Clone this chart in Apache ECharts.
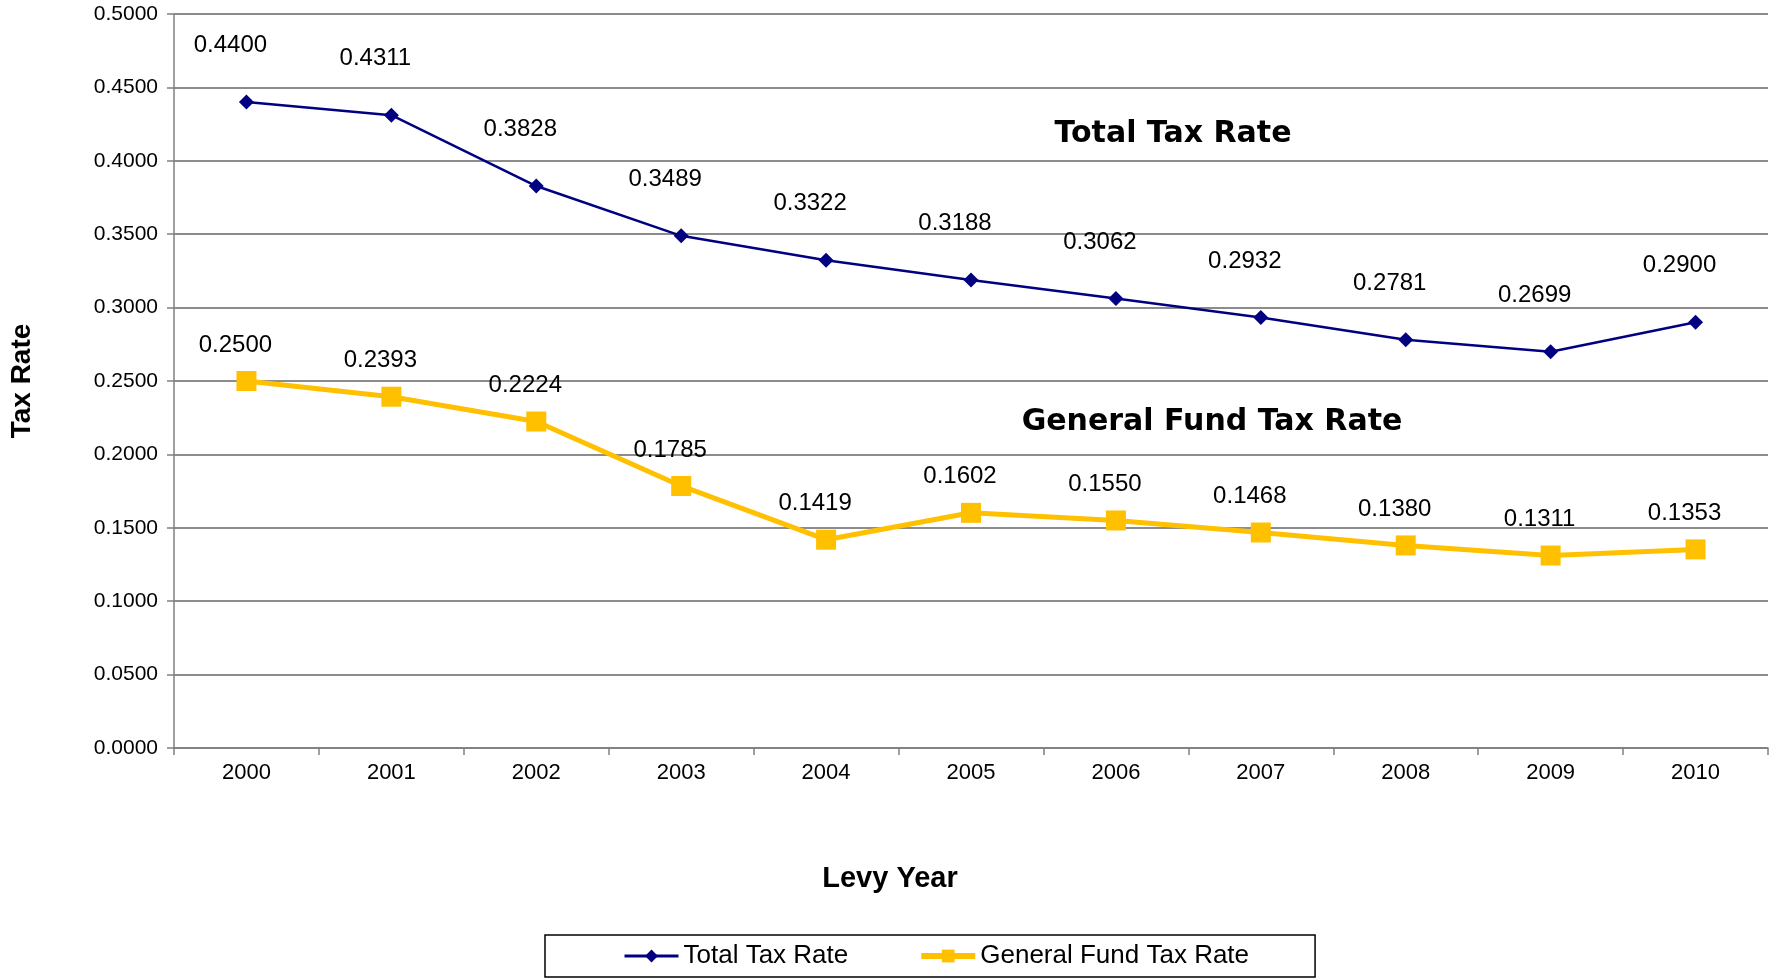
<!DOCTYPE html>
<html>
<head>
<meta charset="utf-8">
<script src="https://cdn.jsdelivr.net/npm/echarts@6/dist/echarts.min.js"></script>
<style>
  html, body { margin: 0; padding: 0; background: #fff; }
  #chart { width: 1778px; height: 980px; }
</style>
</head>
<body>
<div id="chart"></div>
<script>
const years = ['2000', '2001', '2002', '2003', '2004', '2005', '2006', '2007', '2008', '2009', '2010']
const totalTaxRate = [0.4400, 0.4311, 0.3828, 0.3489, 0.3322, 0.3188, 0.3062, 0.2932, 0.2781, 0.2699, 0.2900]
const generalFundTaxRate = [0.2500, 0.2393, 0.2224, 0.1785, 0.1419, 0.1602, 0.1550, 0.1468, 0.1380, 0.1311, 0.1353]

const NAVY = '#000080'
const GOLD = '#FFC000'
const FONT = '"Liberation Sans", Arial, sans-serif'
const VFONT = '"DejaVu Sans", Verdana, sans-serif'

const chart = echarts.init(document.getElementById('chart'))

chart.setOption({
  animation: false,
  backgroundColor: '#fff',
  grid: {
    left: 173,
    right: 10,
    top: 14,
    bottom: 232
  },
  legend: {
    left: 545,
    top: 935,
    padding: [8, 66, 8, 78],
    borderColor: '#000',
    borderWidth: 1.5,
    itemGap: 70,
    itemWidth: 54,
    itemHeight: 16,
    textStyle: { fontFamily: FONT, fontSize: 26, color: '#000' },
    data: [
      { name: 'Total Tax Rate', lineStyle: { width: 3 } },
      { name: 'General Fund Tax Rate', lineStyle: { width: 6 } }
    ]
  },
  xAxis: {
    type: 'category',
    data: years,
    boundaryGap: true,
    name: 'Levy Year',
    nameLocation: 'middle',
    nameGap: 116,
    nameTextStyle: {
      fontFamily: FONT, fontSize: 29, fontWeight: 'bold', color: '#000',
      padding: [0, 162, 0, 0]
    },
    axisLine: { lineStyle: { color: '#808080', width: 1.5 } },
    axisTick: { show: true, length: 7, lineStyle: { color: '#808080', width: 1.5 } },
    axisLabel: { fontFamily: FONT, fontSize: 22, color: '#000', margin: 14 }
  },
  yAxis: {
    type: 'value',
    min: 0,
    max: 0.5,
    interval: 0.05,
    name: 'Tax Rate',
    nameLocation: 'middle',
    nameRotate: 90,
    nameGap: 138,
    nameTextStyle: { fontFamily: FONT, fontSize: 28, fontWeight: 'bold', color: '#000' },
    axisLine: { show: true, lineStyle: { color: '#808080', width: 1.5 } },
    axisTick: { show: true, length: 7, lineStyle: { color: '#808080', width: 1.5 } },
    axisLabel: {
      fontFamily: FONT, fontSize: 21, color: '#000', margin: 16,
      formatter: v => v.toFixed(4)
    },
    splitLine: { lineStyle: { color: '#666', width: 1.5 } }
  },
  graphic: [{
    type: 'text',
    x: 1173,
    y: 134,
    style: {
      text: 'Total Tax Rate', font: 'bold 30px ' + VFONT, fill: '#000',
      textAlign: 'center', textVerticalAlign: 'middle'
    }
  }, {
    type: 'text',
    x: 1212,
    y: 422,
    style: {
      text: 'General Fund Tax Rate', font: 'bold 30px ' + VFONT, fill: '#000',
      textAlign: 'center', textVerticalAlign: 'middle'
    }
  }],
  series: [{
    name: 'Total Tax Rate',
    type: 'line',
    data: totalTaxRate,
    symbol: 'diamond',
    symbolSize: 15,
    itemStyle: { color: NAVY },
    lineStyle: { color: NAVY, width: 2.5 },
    label: {
      show: true,
      position: 'top',
      distance: 37,
      offset: [-16, 0],
      fontFamily: FONT,
      fontSize: 24,
      color: '#000',
      formatter: p => p.value.toFixed(4)
    }
  }, {
    name: 'General Fund Tax Rate',
    type: 'line',
    data: generalFundTaxRate,
    symbol: 'rect',
    symbolSize: 20,
    itemStyle: { color: GOLD },
    lineStyle: { color: GOLD, width: 5 },
    label: {
      show: true,
      position: 'top',
      distance: 14,
      offset: [-11, 0],
      fontFamily: FONT,
      fontSize: 24,
      color: '#000',
      formatter: p => p.value.toFixed(4)
    }
  }]
})
</script>
</body>
</html>
